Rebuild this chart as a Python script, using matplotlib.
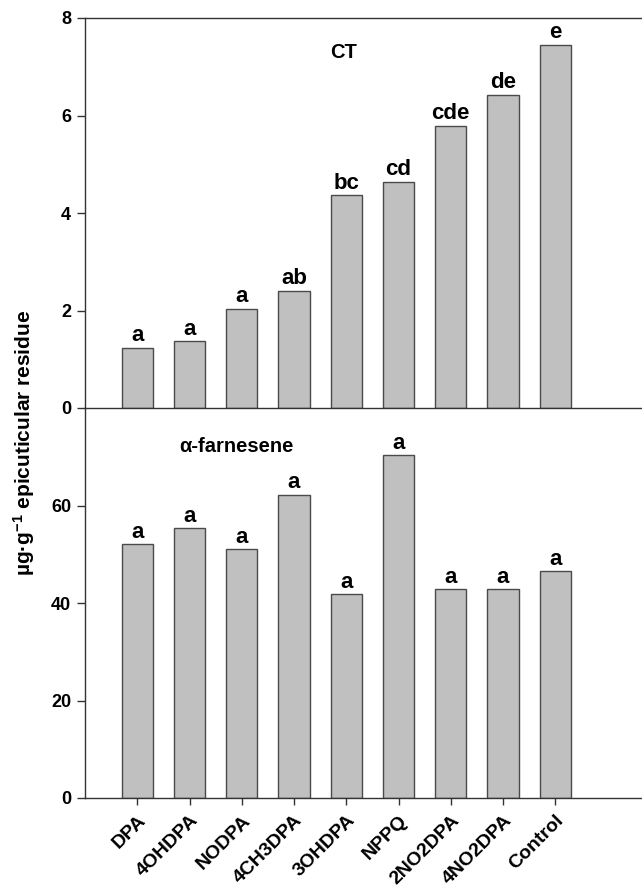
import numpy as np
import matplotlib as mpl
mpl.use('Agg')
import matplotlib.pyplot as plt

# treatments and values
treatments = ["DPA", "4OHDPA", "NODPA", "4CH3DPA", "3OHDPA",
              "NPPQ", "2NO2DPA", "4NO2DPA", "Control"]
ct_values = [1.24, 1.37, 2.04, 2.41, 4.37, 4.64, 5.79, 6.43, 7.45]
ct_letters = ["a", "a", "a", "ab", "bc", "cd", "cde", "de", "e"]
farn_values = [52.1, 55.4, 51.0, 62.2, 41.8, 70.3, 42.8, 42.8, 46.5]
farn_letters = ["a", "a", "a", "a", "a", "a", "a", "a", "a"]

plt.rcParams['font.family'] = ['Liberation Sans', 'DejaVu Sans']
plt.rcParams['font.weight'] = 'bold'
plt.rcParams['mathtext.fontset'] = 'custom'
plt.rcParams['mathtext.rm'] = 'Liberation Sans:bold'
plt.rcParams['mathtext.it'] = 'Liberation Sans:bold'
plt.rcParams['mathtext.bf'] = 'Liberation Sans:bold'

W, H = 642, 892
fig = plt.figure(figsize=(W / 100, H / 100), dpi=100)

left = 85 / W
ax_bot = fig.add_axes([left, 1 - 798 / H, 1 - left, (798 - 408) / H])
ax_top = fig.add_axes([left, 1 - 408 / H, 1 - left, (408 - 18) / H])
ax_top.patch.set_alpha(0)

x = np.arange(1, len(treatments) + 1)
bar_kw = dict(width=0.6, color="#c0c0c0", edgecolor="#4a4a4a", linewidth=1.0)
spine_col = "#333333"


def style_axis(ax):
    ax.spines['right'].set_visible(False)
    for s in ['left', 'top', 'bottom']:
        ax.spines[s].set_color(spine_col)
        ax.spines[s].set_linewidth(1.0)
    ax.set_xlim(0, (W - 85) / 52.25)
    ax.tick_params(axis='y', direction='out', length=6, width=1,
                   color=spine_col, labelsize=13, pad=4)


# top panel: CT
ax_top.bar(x, ct_values, **bar_kw)
for xi, v, lab in zip(x, ct_values, ct_letters):
    ax_top.annotate(lab, (xi, v), xytext=(0, 1), textcoords="offset points",
                    ha="center", va="bottom", fontsize=16, fontweight="bold")
ax_top.text(4.94, 7.3, "CT", ha="center", va="center", fontsize=14.5,
            fontweight="bold")
style_axis(ax_top)
ax_top.set_ylim(0, 8)
ax_top.set_yticks([0, 2, 4, 6, 8])
ax_top.set_xticks([])

# bottom panel: alpha-farnesene
ax_bot.bar(x, farn_values, **bar_kw)
for xi, v, lab in zip(x, farn_values, farn_letters):
    ax_bot.annotate(lab, (xi, v), xytext=(0, 1), textcoords="offset points",
                    ha="center", va="bottom", fontsize=16, fontweight="bold")
ax_bot.text(2.9, 72.2, "α-farnesene", ha="center", va="center", fontsize=14.5,
            fontweight="bold")
style_axis(ax_bot)
ax_bot.spines['top'].set_visible(False)
ax_bot.set_ylim(0, 80)
ax_bot.set_yticks([0, 20, 40, 60])
ax_bot.set_xticks(x)
ax_bot.set_xticklabels(treatments, rotation=45, ha="right",
                       rotation_mode="anchor", fontsize=14, fontweight="bold")
ax_bot.tick_params(axis='x', direction='out', length=5, width=1,
                   color=spine_col, pad=5)

fig.text(0.037, 0.504, r"µg·g$^{-1}$ epicuticular residue",
         rotation=90, ha="center", va="center", fontsize=15, fontweight="bold")

fig.savefig("out.png", dpi=100)
plt.close(fig)
